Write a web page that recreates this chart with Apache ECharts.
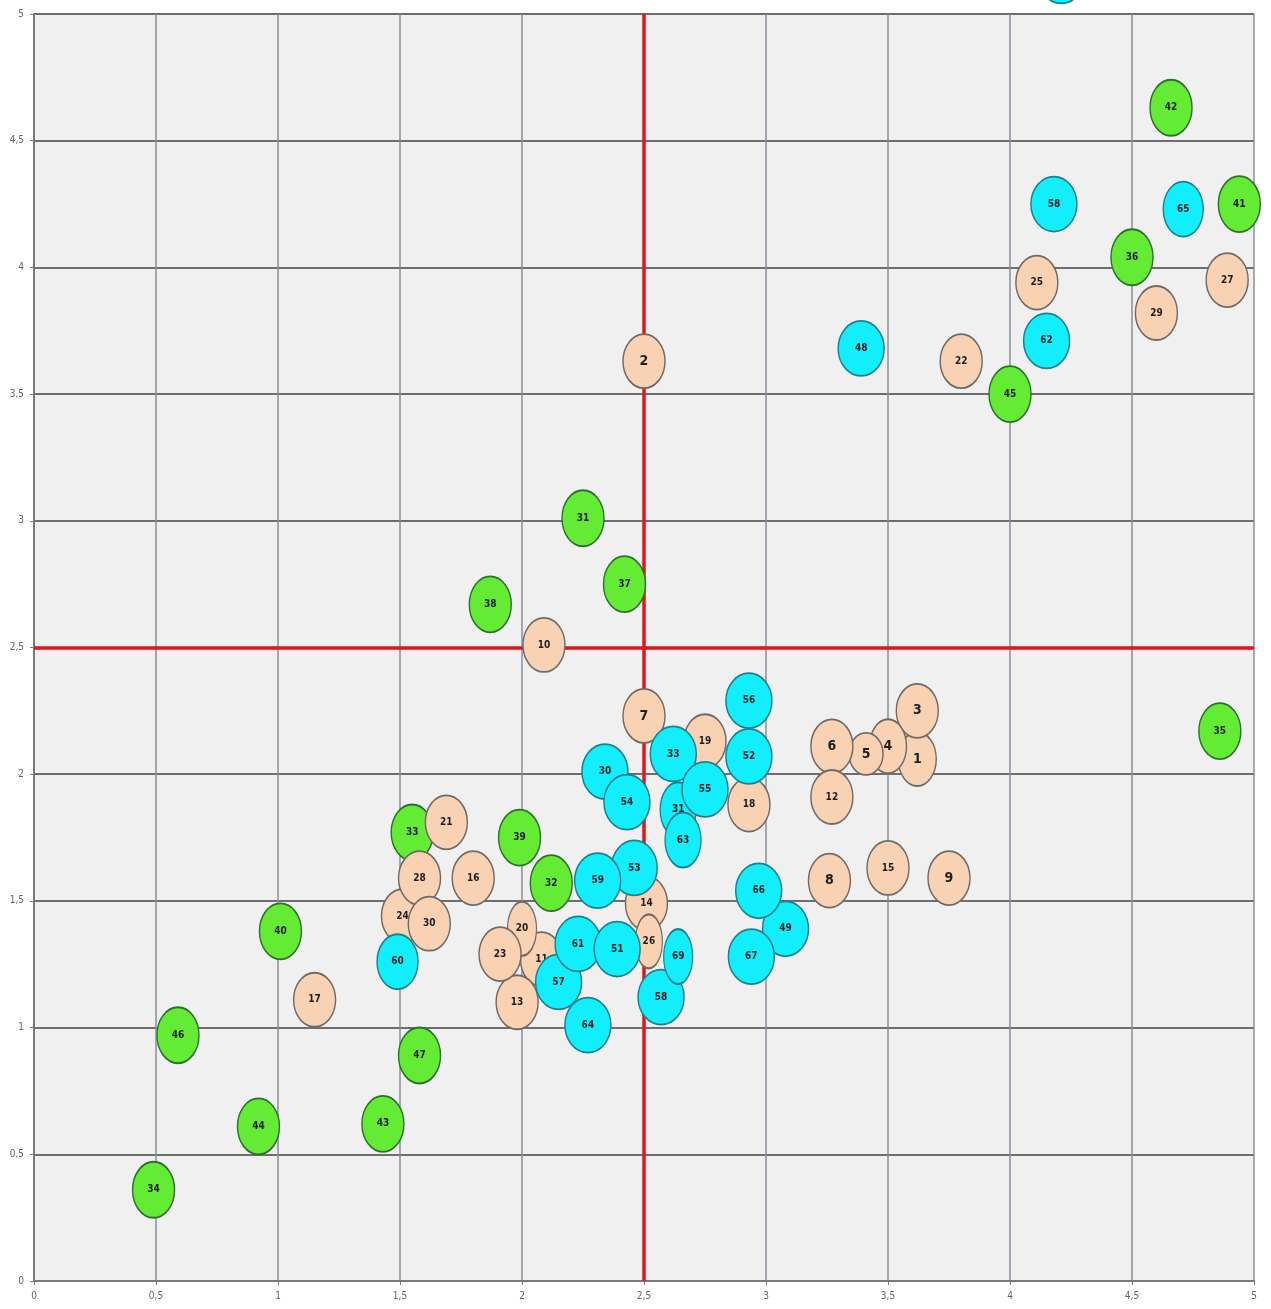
<!DOCTYPE html>
<html>
<head>
<meta charset="utf-8">
<script src="https://cdn.jsdelivr.net/npm/echarts@6/dist/echarts.min.js"></script>
<style>
  html, body { margin: 0; padding: 0; background: #fff; }
  #chart { width: 1271px; height: 1309px; }
</style>
</head>
<body>
<div id="chart"></div>
<script>
// quadrant threshold (red cross)
const threshold = 2.5

const axisTicks = [0, 0.5, 1, 1.5, 2, 2.5, 3, 3.5, 4, 4.5, 5]

// peach group
const peachLabels = ['1', '2', '3', '4', '5', '6', '7', '8', '9', '10', '11', '12', '13', '14', '15',
  '16', '17', '18', '19', '20', '21', '22', '23', '24', '25', '26', '27', '28', '29', '30']
const peachX = [3.62, 2.50, 3.62, 3.50, 3.41, 3.27, 2.50, 3.26, 3.75, 2.09, 2.08, 3.27, 1.98, 2.51, 3.50,
  1.80, 1.15, 2.93, 2.75, 2.00, 1.69, 3.80, 1.91, 1.51, 4.11, 2.52, 4.89, 1.58, 4.60, 1.62]
const peachY = [2.06, 3.63, 2.25, 2.11, 2.08, 2.11, 2.23, 1.58, 1.59, 2.51, 1.27, 1.91, 1.10, 1.49, 1.63,
  1.59, 1.11, 1.88, 2.13, 1.39, 1.81, 3.63, 1.29, 1.44, 3.94, 1.34, 3.95, 1.59, 3.82, 1.41]

// green group
const greenLabels = ['31', '32', '33', '34', '35', '36', '37', '38', '39', '40', '41', '42', '43', '44', '45', '46', '47']
const greenX = [2.25, 2.12, 1.55, 0.49, 4.86, 4.50, 2.42, 1.87, 1.99, 1.01, 4.94, 4.66, 1.43, 0.92, 4.00, 0.59, 1.58]
const greenY = [3.01, 1.57, 1.77, 0.36, 2.17, 4.04, 2.75, 2.67, 1.75, 1.38, 4.25, 4.63, 0.62, 0.61, 3.50, 0.97, 0.89]

// cyan group
const cyanLabels = ['48', '49', '30', '31', '52', '33', '53', '54', '55', '56', '57', '58', '59', '60',
  '61', '51', '62', '63', '64', '65', '66', '67', '58', '69', '70']
const cyanX = [3.39, 3.08, 2.34, 2.64, 2.93, 2.62, 2.46, 2.43, 2.75, 2.93, 2.15, 4.18, 2.31, 1.49,
  2.23, 2.39, 4.15, 2.66, 2.27, 4.71, 2.97, 2.94, 2.57, 2.64, 4.21]
const cyanY = [3.68, 1.39, 2.01, 1.86, 2.07, 2.08, 1.63, 1.89, 1.94, 2.29, 1.18, 4.25, 1.58, 1.26,
  1.33, 1.31, 3.71, 1.74, 1.01, 4.23, 1.54, 1.28, 1.12, 1.28, 5.15]

// bubbles that are drawn squeezed in the original
const narrowWidth = { '26': 27, '20': 29, '69': 29, '68': 29, '63': 36, '31': 36, '1': 38, '4': 37, '65': 40, '60': 41 }

function toPoints(labels, xs, ys) {
  return labels.map((name, i) => ({ name, value: [xs[i], ys[i]] }))
}

function bubbleSeries(name, data, fill, border, w, h, z) {
  return {
    name,
    type: 'scatter',
    data,
    z,
    clip: false,
    symbol: 'circle',
    symbolSize: (val, params) => {
      if (name === 'peach' && params.name === '5') return [34, 42]
      const nw = name === 'green' ? null : narrowWidth[params.name]
      return [nw || w, h]
    },
    itemStyle: { color: fill, borderColor: border, borderWidth: 1.6, opacity: 1 },
    label: {
      show: true,
      position: 'inside',
      formatter: p => p.name,
      color: '#1e1e1e',
      fontFamily: 'DejaVu Sans Condensed',
      fontWeight: 'bold',
      fontSize: 10
    },
    emphasis: { disabled: true }
  }
}

const fmt = v => String(v).replace('.', ',')

const chart = echarts.init(document.getElementById('chart'), null, { renderer: 'canvas' })

const peachSeries = bubbleSeries('peach', toPoints(peachLabels, peachX, peachY), '#f9d2b3', '#6f6a66', 42, 54, 4)
peachSeries.label.formatter = p => p.name.length === 1 ? '{big|' + p.name + '}' : p.name
peachSeries.label.rich = { big: { fontSize: 14, fontWeight: 'bold', fontFamily: 'DejaVu Sans Condensed', color: '#1e1e1e' } }

chart.setOption({
  animation: false,
  backgroundColor: '#ffffff',
  grid: { left: 34, right: 17, top: 14, bottom: 28, show: true, backgroundColor: '#f0f0f0', borderWidth: 0 },
  xAxis: {
    type: 'value',
    min: axisTicks[0],
    max: axisTicks[axisTicks.length - 1],
    interval: 0.5,
    axisLine: { show: true, lineStyle: { color: '#7a7a7a', width: 2 } },
    axisTick: { show: true, length: 4, lineStyle: { color: '#7a7a7a' } },
    axisLabel: { formatter: fmt, color: '#666', fontSize: 10, fontFamily: 'DejaVu Sans Condensed', margin: 10 },
    splitLine: { show: true, lineStyle: { color: '#8a8f9c', width: 1.5 } }
  },
  yAxis: {
    type: 'value',
    min: axisTicks[0],
    max: axisTicks[axisTicks.length - 1],
    interval: 0.5,
    axisLine: { show: true, lineStyle: { color: '#7a7a7a', width: 2 } },
    axisTick: { show: true, length: 4, lineStyle: { color: '#7a7a7a' } },
    axisLabel: { formatter: fmt, color: '#666', fontSize: 10, fontFamily: 'DejaVu Sans Condensed', margin: 10 },
    splitLine: { show: true, lineStyle: { color: '#6e6e6e', width: 2 } }
  },
  series: [
    {
      name: 'quadrants',
      type: 'scatter',
      data: [],
      z: 1,
      markLine: {
        silent: true,
        z: 1,
        symbol: 'none',
        label: { show: false },
        lineStyle: { color: '#e0161a', width: 3.5, type: 'solid' },
        data: [{ xAxis: threshold }, { yAxis: threshold }]
      }
    },
    bubbleSeries('green', toPoints(greenLabels, greenX, greenY), '#63ec33', '#2e6e2e', 42, 56, 3),
    peachSeries,
    bubbleSeries('cyan', toPoints(cyanLabels, cyanX, cyanY), '#12eefc', '#1f7f8c', 46, 55, 5)
  ]
})
</script>
</body>
</html>
